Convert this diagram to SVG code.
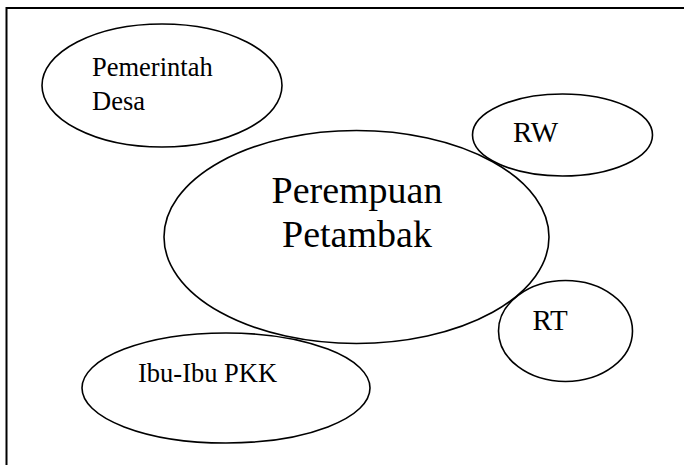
<svg xmlns="http://www.w3.org/2000/svg" width="684" height="465" viewBox="0 0 684 465">
<style>
  .node ellipse { fill: none; stroke: #000000; stroke-width: 1.6; }
  .frame { fill: none; stroke: #000000; stroke-width: 2; }
  text { font-family: "Liberation Serif", "Times New Roman", serif; fill: #000000; }
  .small { font-size: 26.5px; }
  .mid { font-size: 29px; }
  .big { font-size: 38px; }
</style>
<rect x="0" y="0" width="684" height="465" fill="#ffffff"/>
<g id="frame">
  <polyline class="frame" points="6.5,465 6.5,8 684,8"/>
</g>
<g id="connectors"></g>
<g id="node-pemerintah" class="node">
  <ellipse cx="162" cy="85.5" rx="120" ry="61.5"/>
  <text class="small" x="92" y="76">Pemerintah</text>
  <text class="small" x="92" y="109.5">Desa</text>
</g>
<g id="node-ibu" class="node">
  <ellipse cx="226" cy="388" rx="144" ry="55"/>
  <text class="small" x="138" y="382">Ibu-Ibu PKK</text>
</g>
<g id="node-rw" class="node">
  <ellipse cx="562.5" cy="135" rx="90" ry="41"/>
  <text class="mid" x="513" y="142">RW</text>
</g>
<g id="node-rt" class="node">
  <ellipse cx="565.5" cy="331" rx="67" ry="50.5"/>
  <text class="mid" x="532.5" y="330">RT</text>
</g>
<g id="node-perempuan" class="node">
  <ellipse cx="356.5" cy="237" rx="192.5" ry="106.5"/>
  <text class="big" x="357" y="202.5" text-anchor="middle">Perempuan</text>
  <text class="big" x="357" y="246.5" text-anchor="middle">Petambak</text>
</g>
</svg>
